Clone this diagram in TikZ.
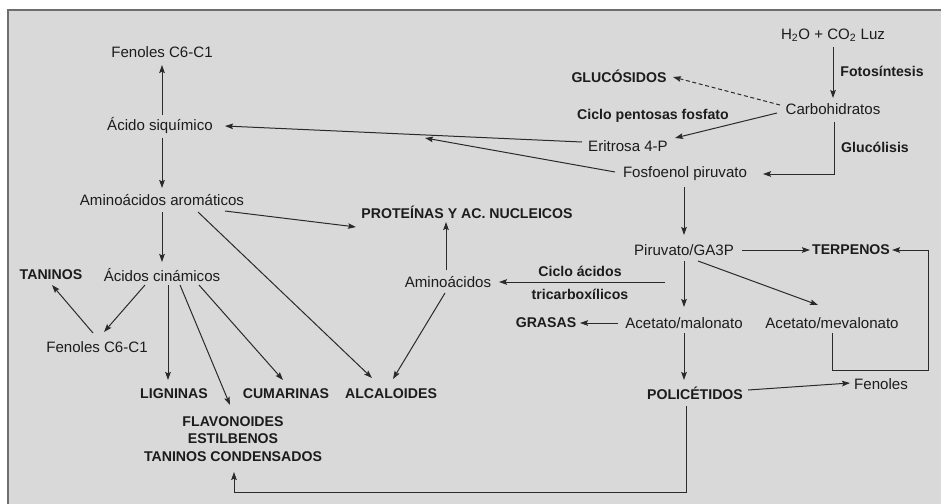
\documentclass[tikz,border=0pt]{standalone}
\usepackage{fontspec}
\setmainfont{Liberation Sans}
\usetikzlibrary{arrows.meta,calc}
\definecolor{bggray}{HTML}{D9D9D9}
\definecolor{framegray}{HTML}{6E6E6E}
\definecolor{ink}{HTML}{1C1C1C}
\definecolor{linec}{HTML}{2A2A2A}
\tikzset{
  lbl/.style={inner sep=0pt, text=ink, font=\fontsize{11.3}{13}\selectfont},
  blbl/.style={inner sep=0pt, text=ink, font=\fontsize{10.6}{12.8}\selectfont\bfseries},
  conn/.style={draw=linec, line width=0.75pt, -{Stealth[length=6pt,width=4.2pt,inset=1pt]}},
}
\begin{document}
\begin{tikzpicture}[x=0.75pt,y=-0.75pt]
\useasboundingbox (0,0) rectangle (941,503);
\clip (0,0) rectangle (941,503);
\fill[white] (0,0) rectangle (941,503);
\draw[fill=bggray, draw=framegray, line width=1.3pt] (8,10) rectangle (960,520);

% nodes
\node[lbl]  (h2o)  at (833,35)  {H\textsubscript{2}O + CO\textsubscript{2} Luz};
\node[blbl] (foto) at (882,71)  {Fotosíntesis};
\node[blbl] (gluc) at (619,76)  {GLUCÓSIDOS};
\node[lbl]  (carb) at (833,109) {Carbohidratos};
\node[blbl] (cpf)  at (653,116) {Ciclo pentosas fosfato};
\node[lbl]  (eri)  at (628,146) {Eritrosa 4-P};
\node[blbl] (gcl)  at (875,147) {Glucólisis};
\node[lbl]  (pep)  at (685,174) {Fosfoenol piruvato};
\node[lbl]  (fen1) at (162,52)  {Fenoles C6-C1};
\node[lbl]  (siq)  at (160,126) {Ácido siquímico};
\node[lbl]  (aar)  at (162,200) {Aminoácidos aromáticos};
\node[blbl] (prot) at (467,212) {PROTEÍNAS Y AC. NUCLEICOS};
\node[blbl] (tan)  at (51,275)  {TANINOS};
\node[lbl]  (cin)  at (162,275) {Ácidos cinámicos};
\node[lbl]  (fen2) at (97,347)  {Fenoles C6-C1};
\node[blbl] (lig)  at (174,394) {LIGNINAS};
\node[blbl] (cum)  at (286,394) {CUMARINAS};
\node[blbl] (alc)  at (391,394) {ALCALOIDES};
\node[blbl, align=center] (flav) at (233,439) {FLAVONOIDES\\[0.3pt]ESTILBENOS\\[0.3pt]TANINOS CONDENSADOS};
\node[lbl]  (amino) at (448,282) {Aminoácidos};
\node[lbl]  (pir)  at (684,250) {Piruvato/GA3P};
\node[blbl] (terp) at (851,250) {TERPENOS};
\node[blbl] (cat1) at (580,271) {Ciclo ácidos};
\node[blbl] (cat2) at (580,294) {tricarboxílicos};
\node[blbl] (gras) at (546,323) {GRASAS};
\node[lbl]  (mal)  at (684,323) {Acetato/malonato};
\node[lbl]  (mev)  at (832,323) {Acetato/mevalonato};
\node[blbl] (poli) at (695,393) {POLICÉTIDOS};
\node[lbl]  (fen3) at (881,384) {Fenoles};

\coordinate (pm) at ($(siq)+(265,12)$);

% connectors
\draw[conn] ($(h2o)+(0,12)$) -- ($(carb)+(0,-11)$);
\draw[conn, dash pattern=on 3pt off 2pt] ($(carb)+(-53,-4)$) -- ($(gluc)+(54,1)$);
\draw[conn] ($(carb)+(-56,4)$) -- ($(eri)+(47,-8)$);
\draw[conn] ($(carb)+(1,13)$) |- ($(pep)+(78,0)$);
\draw[conn] ($(eri)+(-46,-4)$) -- ($(siq)+(65,0)$);
\draw[conn] ($(pep)+(-70,-2)$) -- (pm);
\draw[conn] ($(siq)+(2,-11)$) -- ($(fen1)+(0,13)$);
\draw[conn] ($(siq)+(2,12)$) -- ($(aar)+(0,-12)$);
\draw[conn] ($(aar)+(63,11)$) -- ($(prot)+(-111,15)$);
\draw[conn] ($(aar)+(36,12)$) -- ($(alc)+(-19,-16)$);
\draw[conn] ($(aar)+(0,12)$) -- ($(cin)+(0,-13)$);
\draw[conn] ($(cin)+(-17,10)$) -- ($(fen2)+(7,-15)$);
\draw[conn] ($(fen2)+(-4,-14)$) -- ($(tan)+(1,10)$);
\draw[conn] ($(cin)+(6,10)$) -- ($(lig)+(-6,-14)$);
\draw[conn] ($(cin)+(18,10)$) -- ($(flav)+(-3,-34)$);
\draw[conn] ($(cin)+(37,10)$) -- ($(cum)+(-3,-14)$);
\draw[conn] ($(amino)+(-3,11)$) -- ($(alc)+(2,-15)$);
\draw[conn] ($(amino)+(-2,-12)$) -- ($(prot)+(-21,10)$);
\draw[conn] ($(pep)+(-1,13)$) -- ($(pir)+(0,-15)$);
\draw[conn] ($(pir)+(58,0)$) -- ($(terp)+(-41,0)$);
\draw[conn] ($(pir)+(14,11)$) -- ($(mev)+(-14,-18)$);
\draw[conn] ($(pir)+(0,11)$) -- ($(mal)+(0,-16)$);
\draw[conn] ($(pir)+(-19,32)$) -- ($(amino)+(51,0)$);
\draw[conn] ($(mal)+(-66,0)$) -- ($(gras)+(34,0)$);
\draw[conn] ($(mal)+(0,10)$) -- ($(poli)+(-11,-13)$);
\draw[conn] ($(mev)+(0,10)$) |- ($(mev)+(96,47)$) |- ($(terp)+(41,0)$);
\draw[conn] ($(poli)+(53,-3)$) -- ($(fen3)+(-31,-1)$);
\draw[conn] ($(poli)+(-9,13)$) |- ($(flav)+(1,53)$) -- ($(flav)+(1,33)$);
\end{tikzpicture}
\end{document}
